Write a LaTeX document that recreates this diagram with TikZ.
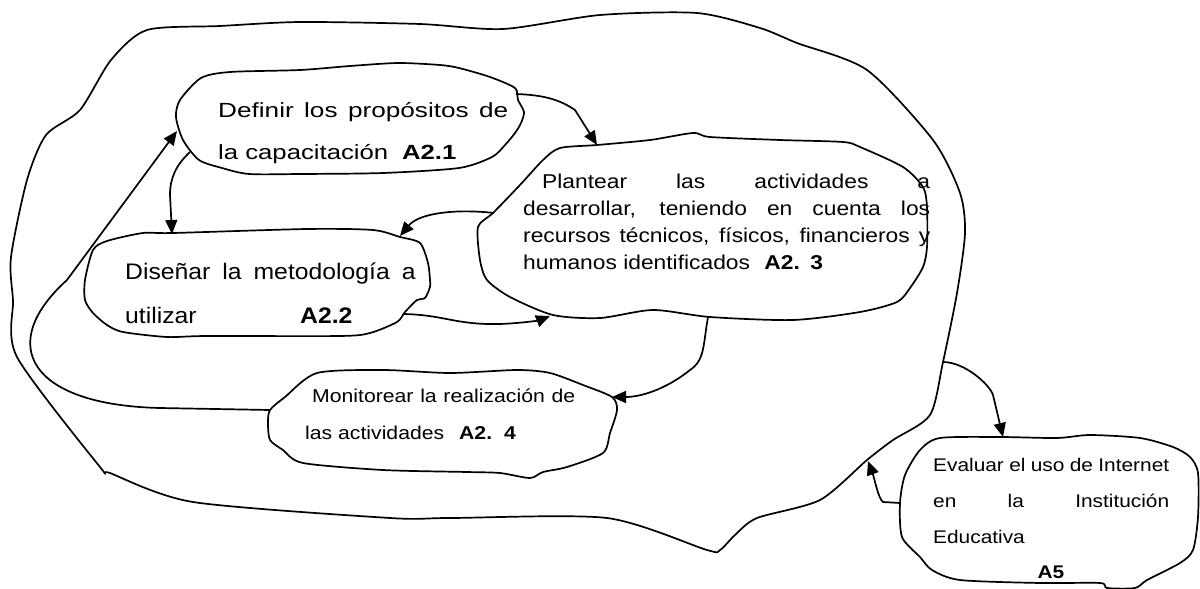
\documentclass[tikz,border=0pt]{standalone}
\usepackage{fontspec}
\usepackage{graphicx}
\setmainfont{Liberation Sans}
\newfontfamily\wfont{Liberation Sans}[FakeStretch=1.14]
\usetikzlibrary{arrows.meta}

\tikzset{
  blob/.style={draw=black, line width=1.7pt, line join=round},
  conn/.style={draw=black, line width=1.7pt, line join=round, -{Triangle[length=14pt,width=12pt]}},
  txt/.style={anchor=base west, inner sep=0pt, text=black},
  fA/.style={font=\wfont\fontsize{20.5}{24}\selectfont},
  fB/.style={font=\fontsize{22.5}{26}\selectfont},
  fC/.style={font=\wfont\fontsize{20}{24}\selectfont},
  fD/.style={font=\wfont\fontsize{18.6}{22}\selectfont},
  fE/.style={font=\wfont\fontsize{18.3}{22}\selectfont},
}

\begin{document}
\begin{tikzpicture}[x=1pt,y=-1pt]
\fill[white] (0,0) rectangle (1200,589);
\useasboundingbox (0,0) rectangle (1200,589);

% outer boundary
\draw[blob] plot[smooth cycle, tension=0.45] coordinates {
 (147,30) (220,26) (300,22) (420,24) (503,29) (600,15) (697,13) (760,28)
 (797,43) (867,70) (933,140) (960,193) (965,233) (957,293) (943,362)
 (930,415) (893,440) (867,460) (820,500) (757,518) (735,535) (720,550)
 (707,550) (607,518) (450,518) (390,518) (193,502) (110,473) (100,467)
 (17,357) (13,300) (11,257) (27,180) (46,135) (80,110) (111,60)};
\coordinate (oout) at (943,362);
\coordinate (oin) at (868,461);

% A2.1
\draw[blob] plot[smooth cycle, tension=0.45] coordinates {
 (180,100) (201,78) (230,72) (300,70) (350,66) (398,63) (440,65) (459,68)
 (490,77) (515,88) (518,100) (524,112) (521,123) (515,133) (505,145)
 (492,157) (459,168) (383,173) (300,174) (249,174) (222,168) (199,160)
 (183,140) (176,117)};
\coordinate (a21r) at (516,94);
\coordinate (a21bl) at (190,152);
\coordinate (a21l) at (177,131);
\node[txt,fA] (t21a) at (218,117) {\scalebox{1.12}[1]{\makebox[259pt][s]{Definir los propósitos de}}};
\node[txt,fA] (t21b) at (218,159) {\scalebox{1.1}[1]{la capacitación\hspace{6pt} \textbf{A2.1}}};

% A2.3
\draw[blob] plot[smooth cycle, tension=0.45] coordinates {
 (597,145) (650,140) (693,133) (710,137) (780,140) (843,142) (860,147)
 (903,167) (923,187) (927,207) (927,247) (923,267) (910,288) (897,302)
 (860,312) (793,320) (710,317) (653,310) (600,318) (553,315) (510,297)
 (487,280) (480,260) (478,227) (493,213) (520,185) (543,160) (560,148)};
\coordinate (a23t) at (597,145);
\coordinate (a23l) at (494,213);
\coordinate (a23b) at (550,316);
\coordinate (a23bb) at (708,317);
\node[txt,fC] (t23a) at (542,188) {\makebox[388pt][s]{Plantear las actividades a}};
\node[txt,fC] (t23b) at (523,215) {\makebox[407pt][s]{desarrollar, teniendo en cuenta los}};
\node[txt,fC] (t23c) at (523,242) {\makebox[407pt][s]{recursos técnicos, físicos, financieros y}};
\node[txt,fC] (t23d) at (523,269) {humanos identificados\hspace{8pt} \textbf{A2.\hspace{2pt} 3}};

% A2.2
\draw[blob] plot[smooth cycle, tension=0.45] coordinates {
 (173,233) (143,233) (107,241) (93,250) (85,280) (85,300) (93,313) (107,325)
 (123,332) (167,337) (207,336) (340,336) (370,333) (397,322) (405,312)
 (417,300) (425,298) (430,287) (430,280) (428,263) (420,243) (400,237)
 (373,230) (307,229)};
\coordinate (a22t) at (172,234);
\coordinate (a22tr) at (400,236);
\coordinate (a22r) at (404,314);
\node[txt,fB] (t22a) at (125,279) {\scalebox{1.1}[1]{\makebox[264pt][s]{Diseñar la metodología a}}};
\node[txt,fB] (t22b) at (125,323) {\scalebox{1.1}[1]{utilizar}};
\node[txt,fB] (t22c) at (300,323) {\scalebox{1.1}[1]{\textbf{A2.2}}};

% A2.4
\draw[blob] plot[smooth cycle, tension=0.45] coordinates {
 (270,410) (285,397) (317,373) (383,370) (450,373) (517,370) (550,373)
 (583,385) (612,397) (617,410) (610,433) (603,453) (567,467) (543,472)
 (530,478) (500,473) (467,472) (383,470) (303,463) (283,450) (270,440)
 (268,423)};
\coordinate (a24r) at (612,397);
\coordinate (a24l) at (270,410);
\node[txt,fD] (t24a) at (312,402) {\makebox[263pt][s]{Monitorear la realización de}};
\node[txt,fD] (t24b) at (305,439) {las actividades\hspace{9pt} \textbf{A2.}\hspace{4pt} \textbf{4}};

% A5
\draw[blob] plot[smooth cycle, tension=0.45] coordinates {
 (940,438) (1000,437) (1057,438) (1090,435) (1140,438) (1173,447) (1190,457)
 (1198,473) (1198,517) (1193,550) (1180,563) (1147,580) (1135,588)
 (1107,588) (1100,583) (1040,583) (960,580) (932,570) (920,557) (902,537)
 (900,503) (905,475) (920,450)};
\coordinate (a5t) at (1003,437);
\coordinate (a5l) at (900,503);
\node[txt,fE] (t5a) at (933,471) {\makebox[236pt][s]{Evaluar el uso de Internet}};
\node[txt,fE] (t5b) at (933,507) {\makebox[236pt][s]{en la Institución}};
\node[txt,fE] (t5c) at (933,543) {Educativa};
\node[anchor=base, inner sep=0pt, fE] (t5d) at (1051,578) {\textbf{A5}};

% connectors
\draw[conn] (a21r) .. controls (545,95) and (560,100) .. (575,110) -- (a23t);
\draw[conn] (a21bl) .. controls (176,165) and (170,178) .. (170,195) -- (a22t);
\draw[conn] (a23l) .. controls (460,209) and (420,212) .. (a22tr);
\draw[conn] (a22r) .. controls (445,315) and (455,325) .. (500,324) .. controls (525,323) and (540,320) .. (a23b);
\draw[conn] (a23bb) .. controls (703,345) and (705,360) .. (690,370) .. controls (665,390) and (640,397) .. (a24r);
\draw[conn] (a24l) -- (160,408) .. controls (30,405) and (-5,345) .. (67,280) -- (a21l);
\draw[conn] (oout) .. controls (965,362) and (990,385) .. (993,395) -- (a5t);
\draw[conn] (a5l) -- (883,502) .. controls (878,498) and (875,480) .. (oin);
\end{tikzpicture}
\end{document}
